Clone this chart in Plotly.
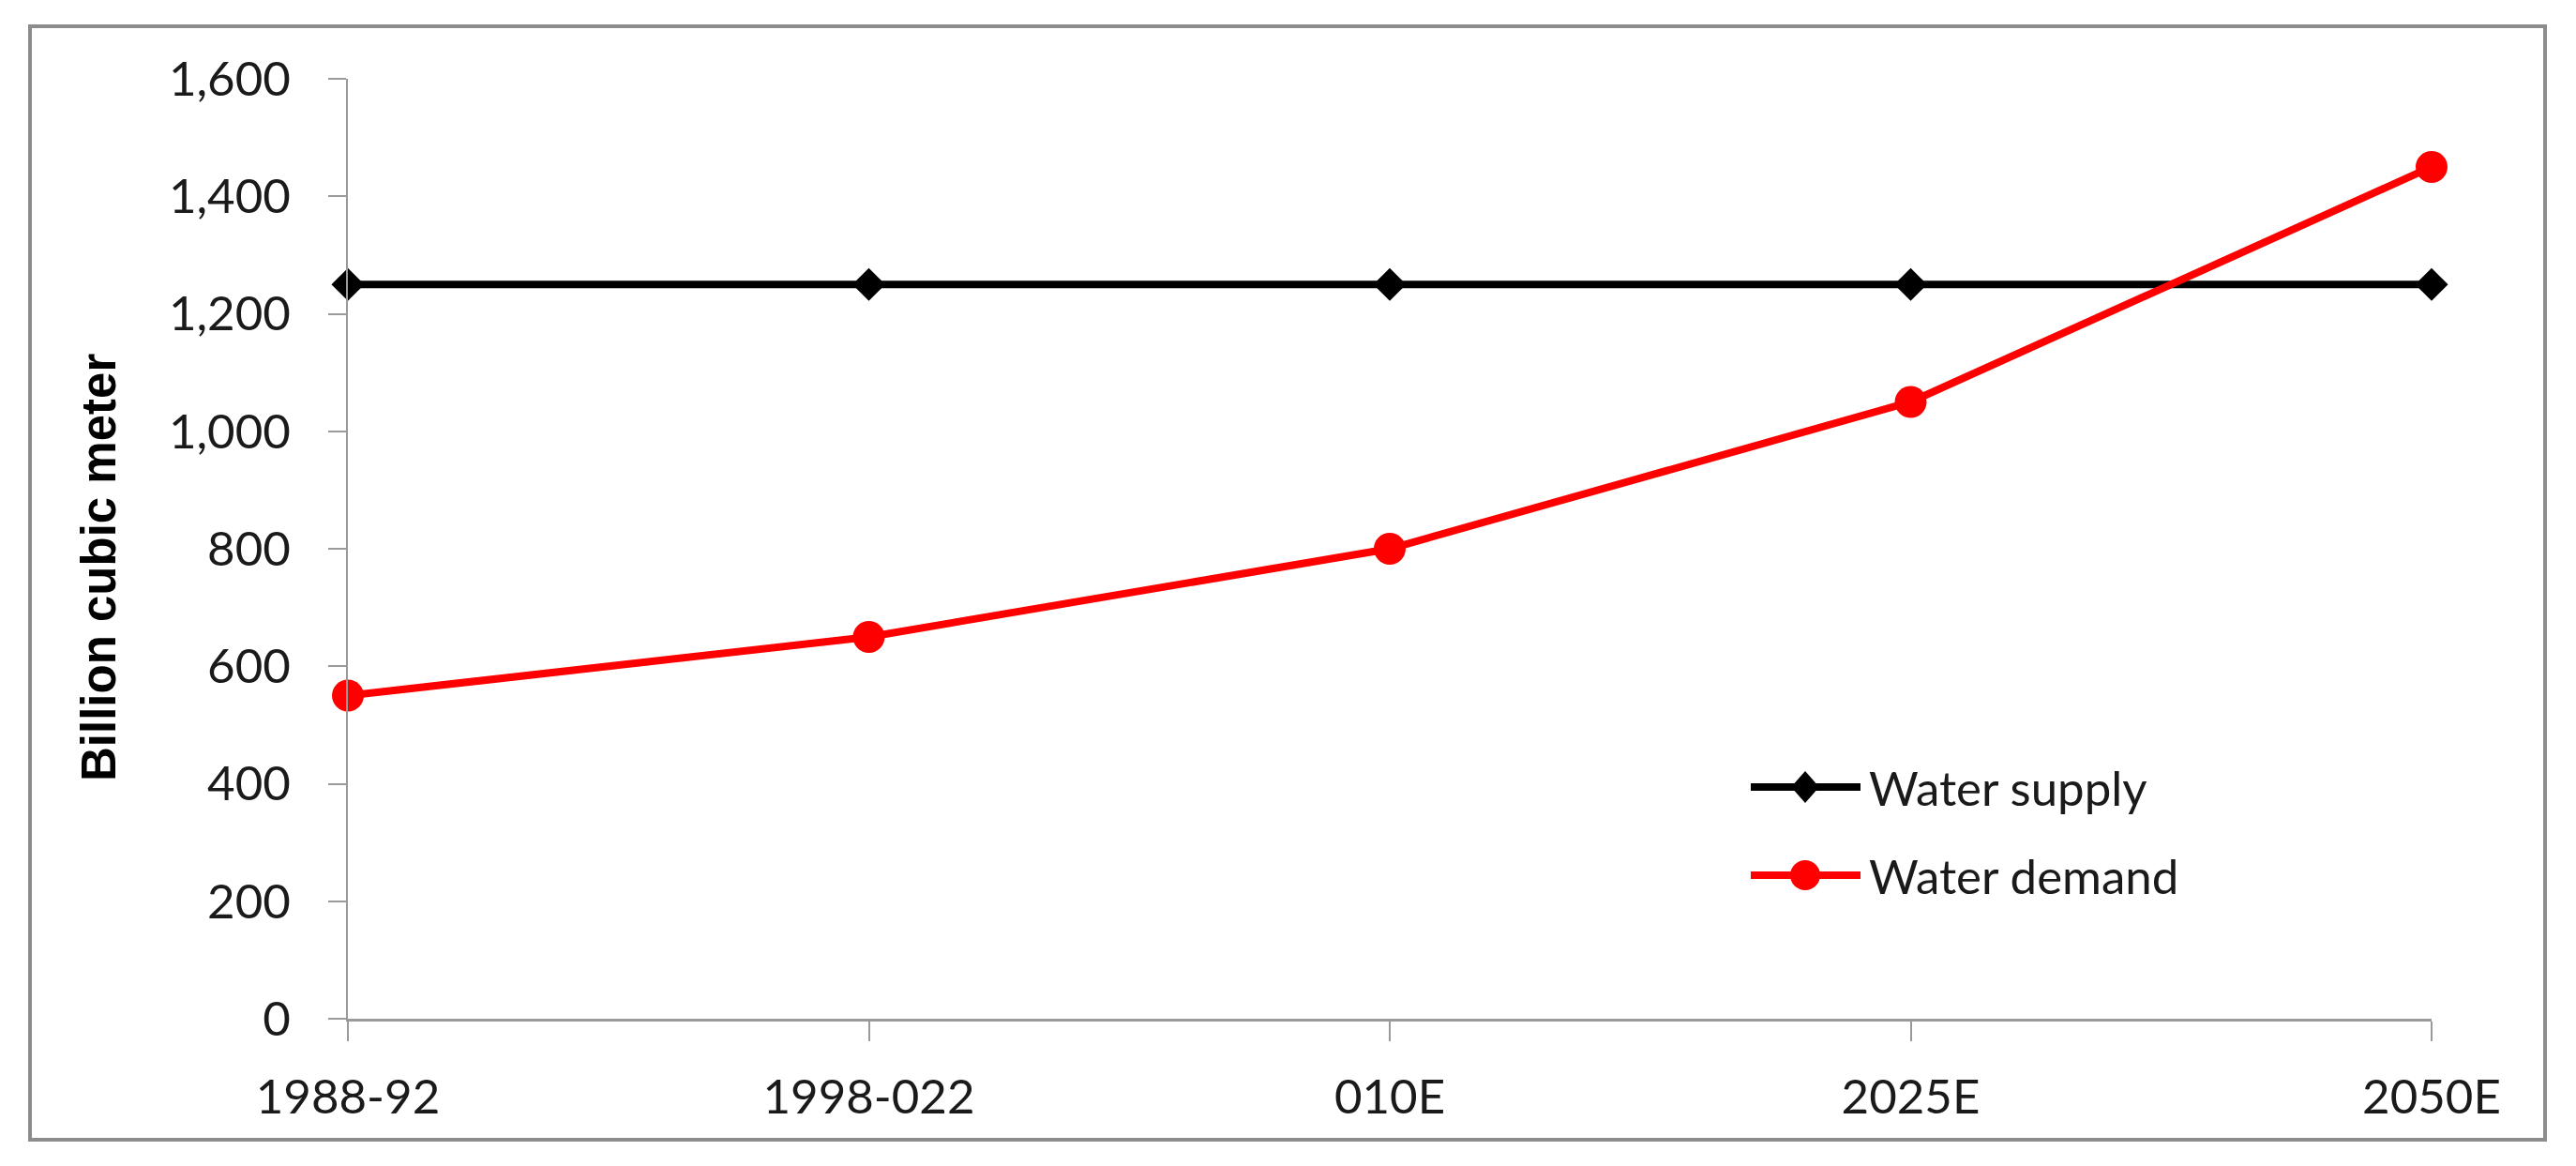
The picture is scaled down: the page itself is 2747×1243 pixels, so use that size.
import plotly.graph_objects as go

# data
periods = ["1988-92", "1998-022", "010E", "2025E", "2050E"]
water_supply = [1250, 1250, 1250, 1250, 1250]
water_demand = [550, 650, 800, 1050, 1450]
y_ticks = [0, 200, 400, 600, 800, 1000, 1200, 1400, 1600]

# the page body has an 8px margin, so everything is laid out 8px up/left
OFF = 8
W, H = 2747 - 2 * OFF, 1243 - 2 * OFF
# plot-area edges in screen pixels
L, R, T, B = 371, 2593, 84, 1086

TICK_FONT = dict(family="Lato, Calibri, sans-serif", size=51, color="#1a1a1a")
AXIS_GREY = "#9a9a9a"
LINE_W = 8


def px_x(x):
    return (x - L) / (R - L)


def px_y(y):
    return (B - y) / (B - T)


fig = go.Figure()

fig.add_trace(
    go.Scatter(
        x=periods,
        y=water_supply,
        mode="lines+markers",
        name="Water supply",
        line=dict(color="black", width=LINE_W),
        marker=dict(symbol="diamond", size=27, color="black"),
        cliponaxis=False,
    )
)
fig.add_trace(
    go.Scatter(
        x=periods,
        y=water_demand,
        mode="lines+markers",
        name="Water demand",
        line=dict(color="#ff0000", width=LINE_W),
        marker=dict(symbol="circle", size=34, color="#ff0000"),
        cliponaxis=False,
    )
)

# hand-drawn legend so the line samples are as long as in the original
shapes = []
annotations = []
legend_rows = [
    ("Water supply", "black", "diamond", 839),
    ("Water demand", "#ff0000", "circle", 933),
]
for label, color, symbol, row_y in legend_rows:
    yy = px_y(row_y)
    shapes.append(
        dict(
            type="line", xref="paper", yref="paper",
            x0=px_x(1867), x1=px_x(1984), y0=yy, y1=yy,
            line=dict(color=color, width=LINE_W),
        )
    )
    if symbol == "circle":
        shapes.append(
            dict(
                type="circle", xref="paper", yref="paper",
                xsizemode="pixel", ysizemode="pixel",
                xanchor=px_x(1925), yanchor=yy,
                x0=-16, x1=16, y0=-16, y1=16,
                fillcolor=color, line=dict(width=0),
            )
        )
    else:
        shapes.append(
            dict(
                type="path", xref="paper", yref="paper",
                xsizemode="pixel", ysizemode="pixel",
                xanchor=px_x(1925), yanchor=yy,
                path="M -15 0 L 0 17 L 15 0 L 0 -17 Z",
                fillcolor=color, line=dict(width=0),
            )
        )
    annotations.append(
        dict(
            text=label, xref="paper", yref="paper",
            x=px_x(1991), y=yy, xanchor="left", yanchor="middle",
            showarrow=False, font=TICK_FONT,
        )
    )

# outer chart frame
shapes.append(
    dict(
        type="rect", xref="paper", yref="paper",
        x0=px_x(32), x1=px_x(2714), y0=px_y(1215), y1=px_y(28),
        line=dict(color="#8c8c8c", width=4),
        fillcolor="rgba(0,0,0,0)", layer="below",
    )
)

annotations.append(
    dict(
        text="<b>Billion cubic meter</b>", xref="paper", yref="paper",
        x=px_x(105), y=px_y(605), xanchor="center", yanchor="middle",
        textangle=-90, showarrow=False,
        font=dict(family="Liberation Sans, Arial, sans-serif", size=51, color="black"),
    )
)

fig.update_layout(
    width=W,
    height=H,
    margin=dict(l=L - OFF, r=W - (R - OFF), t=T - OFF, b=H - (B - OFF)),
    paper_bgcolor="white",
    plot_bgcolor="white",
    showlegend=False,
    shapes=shapes,
    annotations=annotations,
    xaxis=dict(
        type="category",
        range=[0, len(periods) - 1],
        showgrid=False,
        zeroline=False,
        showline=True,
        linecolor=AXIS_GREY,
        linewidth=3,
        ticks="outside",
        ticklen=21,
        tickwidth=2,
        tickcolor=AXIS_GREY,
        tickfont=TICK_FONT,
        ticklabelstandoff=16,
    ),
    yaxis=dict(
        range=[0, 1600],
        tickvals=y_ticks,
        ticktext=[f"{v:,}" for v in y_ticks],
        showgrid=False,
        zeroline=False,
        showline=True,
        linecolor=AXIS_GREY,
        linewidth=2,
        ticks="outside",
        ticklen=19,
        tickwidth=2,
        tickcolor=AXIS_GREY,
        tickfont=TICK_FONT,
        ticklabelstandoff=30,
    ),
)

fig.write_html("out.html")
